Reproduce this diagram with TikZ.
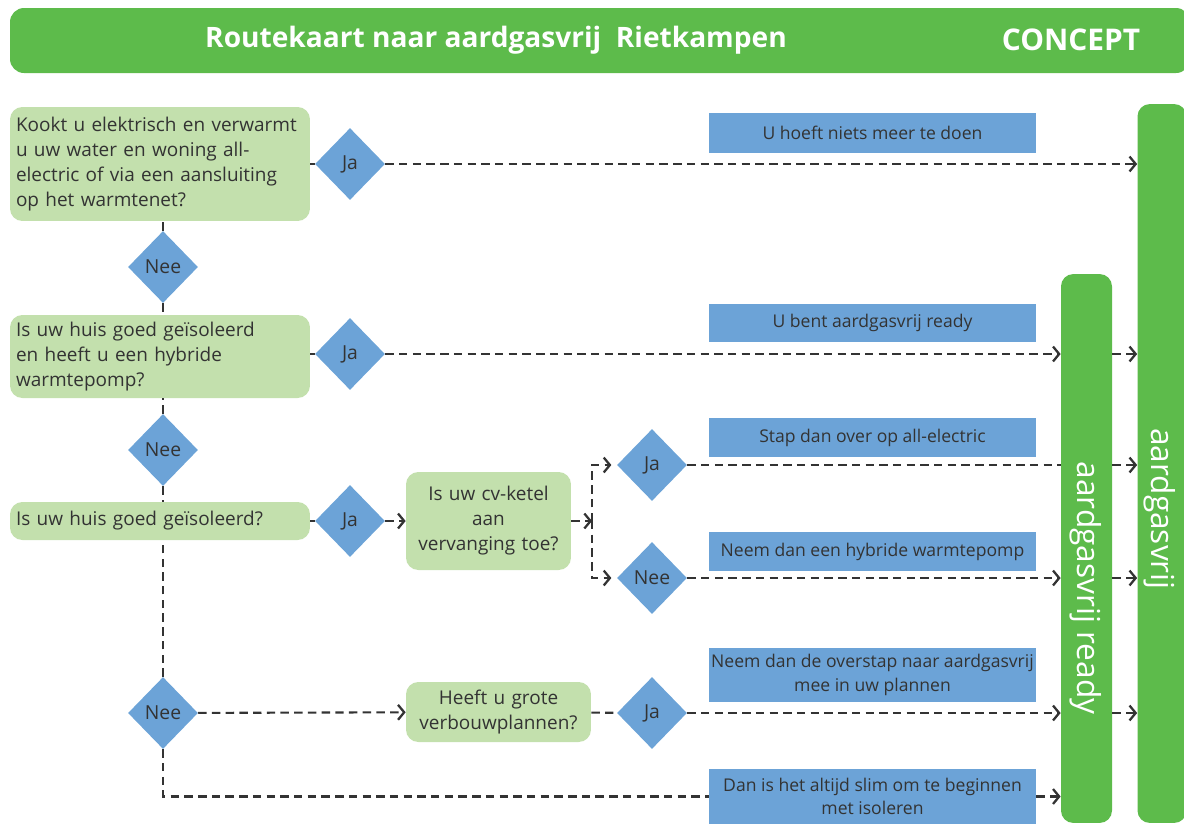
\documentclass[tikz,border=0pt]{standalone}
\usepackage{fontspec}
\setmainfont{Open Sans}
\usetikzlibrary{shapes.geometric,arrows.meta}

\definecolor{kopgroen}{HTML}{5DBB4B}
\definecolor{vraaggroen}{HTML}{C3E0AD}
\definecolor{advies}{HTML}{6CA3D7}
\definecolor{inkt}{HTML}{333333}

\begin{document}
\begin{tikzpicture}[x=0.02cm,y=-0.02cm,
  vraag/.style={shape=rectangle,rounded corners=7pt,fill=vraaggroen,text=inkt,inner xsep=0.12cm,inner ysep=0pt,font=\fontsize{10.8}{14.2}\selectfont},
  keuze/.style={shape=diamond,fill=advies,text=inkt,inner sep=0pt,minimum width=1.4cm,minimum height=1.44cm,font=\fontsize{11}{13}\selectfont},
  advies/.style={shape=rectangle,fill=advies,text=inkt,inner sep=0pt,minimum width=6.54cm,align=center,font=\fontsize{10}{13.5}\selectfont},
  balk/.style={shape=rectangle,fill=kopgroen,rounded corners=7pt,inner sep=0pt},
  balktekst/.style={text=white,rotate=-90,font=\fontsize{18}{19}\selectfont},
  stroom/.style={draw=inkt,line width=1.2pt,dash pattern=on 4.8pt off 3pt},
  pijl/.style={stroom,-{Straight Barb[length=3.5pt,width=8.5pt,line width=1.3pt]}}]

\useasboundingbox (0,0) rectangle (1184,833);

% kop
\fill[kopgroen,rounded corners=8pt] (10,8) rectangle (1190,73);
\node[text=white,font=\fontsize{16}{18}\bfseries] (titel) at (496,40) {Routekaart naar aardgasvrij\ \ Rietkampen};
\node[text=white,font=\fontsize{17}{18}\bfseries] (concept) at (1071,40) {CONCEPT};

% eindbalken
\node[balk,minimum width=1.02cm,minimum height=10.98cm] (ready) at (1086.5,548.5) {};
\node[balk,minimum width=0.98cm,minimum height=14.38cm] (eind) at (1162,463.5) {};
\node[balktekst] (readytekst) at (1086,588) {aardgasvrij ready};
\node[balktekst] (eindtekst) at (1160,509) {aardgasvrij};

% vragen
\node[vraag,minimum height=2.28cm,text width=5.76cm,align=left] (q1) at (160,164) {Kookt u elektrisch en verwarmt\\u uw water en woning all-\\electric of via een aansluiting\\op het warmtenet?};
\node[vraag,minimum height=1.66cm,text width=5.76cm,align=left] (q2) at (160,356.5) {Is uw huis goed geïsoleerd\\en heeft u een hybride\\warmtepomp?};
\node[vraag,minimum height=0.76cm,text width=5.76cm,align=left] (q3) at (160,521) {Is uw huis goed geïsoleerd?};
\node[vraag,minimum height=1.96cm,text width=3.06cm,align=center] (q4) at (488.5,521) {Is uw cv-ketel\\aan\\vervanging toe?};
\node[vraag,minimum height=1.2cm,text width=3.46cm,align=center] (q5) at (498.5,712) {Heeft u grote\\verbouwplannen?};

% keuzes
\node[keuze] (ja1) at (350,164) {Ja};
\node[keuze] (nee1) at (163,267) {Nee};
\node[keuze] (ja2) at (350,354) {Ja};
\node[keuze] (nee2) at (163,450) {Nee};
\node[keuze] (ja3) at (350,521) {Ja};
\node[keuze] (ja4) at (652,465) {Ja};
\node[keuze] (nee4) at (652,578) {Nee};
\node[keuze] (nee5) at (163,713) {Nee};
\node[keuze] (ja5) at (652,713) {Ja};

% adviezen
\node[advies,minimum height=0.8cm] (a1) at (872.5,133) {U hoeft niets meer te doen};
\node[advies,minimum height=0.76cm] (a2) at (872.5,323) {U bent aardgasvrij ready};
\node[advies,minimum height=0.78cm] (a3) at (872.5,437.5) {Stap dan over op all-electric};
\node[advies,minimum height=0.78cm] (a4) at (872.5,551.5) {Neem dan een hybride warmtepomp};
\node[advies,minimum height=1.08cm] (a5) at (872.5,675) {Neem dan de overstap naar aardgasvrij\\mee in uw plannen};
\node[advies,minimum height=1.1cm] (a6) at (872.5,796.5) {Dan is het altijd slim om te beginnen\\met isoleren};

\coordinate (splits) at (592,521);

% verbindingen
\draw[stroom] (q1) -- (ja1);
\draw[pijl] (ja1) -- (ja1 -| eind.west);
\draw[stroom] (nee1) -- (nee1 |- q1.south);
\draw[stroom] (nee1) -- (nee1 |- q2.north);
\draw[stroom] (q2.east |- ja2) -- (ja2);
\draw[pijl] (ja2) -- (ja2 -| ready.west);
\draw[pijl] (ja2 -| ready.east) -- (ja2 -| eind.west);
\draw[stroom] (nee2) -- (nee2 |- q2.south);
\draw[stroom] (nee2) -- (nee2 |- q3.north);
\draw[stroom] (q3) -- (ja3);
\draw[pijl] (ja3) -- (q4);
\draw[pijl] (q4) -- (splits);
\draw[pijl,shorten >=3pt] (splits) |- (ja4);
\draw[pijl,shorten >=3pt] (splits) |- (nee4);
\draw[stroom] (ja4) -- (ja4 -| ready.west);
\draw[pijl] (ja4 -| ready.east) -- (ja4 -| eind.west);
\draw[pijl] (nee4) -- (nee4 -| ready.west);
\draw[pijl] (nee4 -| ready.east) -- (nee4 -| eind.west);
\draw[stroom] (nee5) -- (nee5 |- q3.south);
\draw[pijl] (nee5) -- (q5);
\draw[stroom] (q5) -- (ja5);
\draw[pijl] (ja5) -- (ja5 -| ready.west);
\draw[pijl] (ja5 -| ready.east) -- (ja5 -| eind.west);
\draw[stroom] (nee5) |- (a6.west);
\draw[pijl] (a6.east) -- (ready.west |- a6);
\end{tikzpicture}
\end{document}
